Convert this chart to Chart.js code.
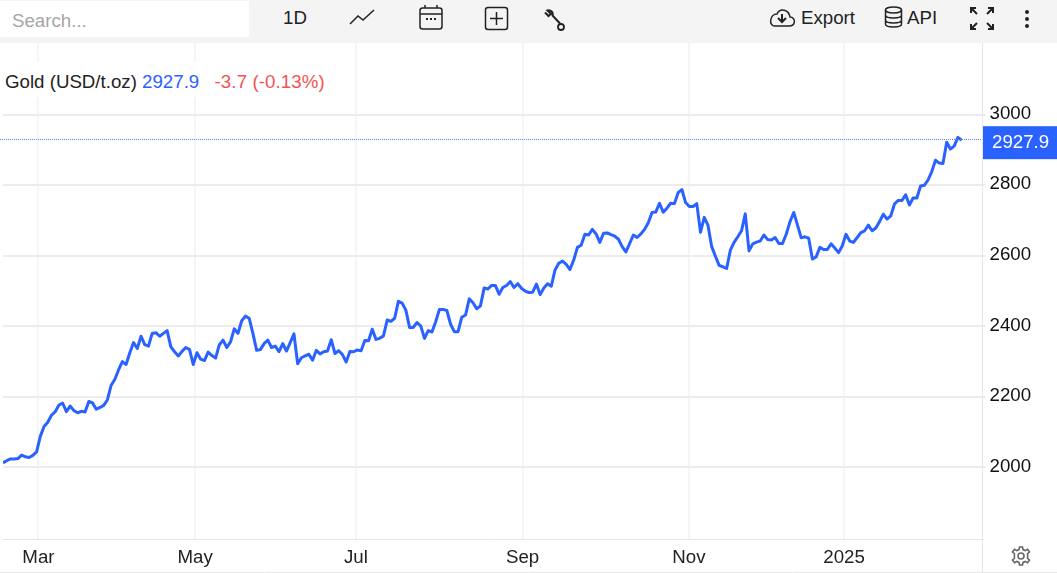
<!DOCTYPE html>
<html>
<head>
<meta charset="utf-8">
<title>Gold (USD/t.oz)</title>
<script src="https://cdn.jsdelivr.net/npm/chart.js@4/dist/chart.umd.min.js"></script>
<style>
  html, body { margin: 0; padding: 0; background: #fff; overflow: hidden; }
  body { width: 1057px; height: 573px; position: relative; font-family: "Liberation Sans", Arial, sans-serif; font-size: 18.7px; color: #222; }
  #toolbar { position: absolute; left: 0; top: 0; width: 1057px; height: 43px; background: #f4f4f4; }
  #search { position: absolute; left: 0; top: 1px; width: 249px; height: 36px; background: #fff; color: #a6a6a6; line-height: 40px; text-indent: 12px; }
  .tool { position: absolute; top: 6px; line-height: 24px; white-space: nowrap; }
  .icon { position: absolute; fill: none; stroke: #222; stroke-width: 1.5; }
  #wrap { position: absolute; left: 0; top: 43px; width: 1057px; height: 530px; }
  #label { position: absolute; left: 2px; top: 62px; width: 328px; height: 35px; line-height: 39px; background: #fff; white-space: nowrap; text-indent: 3px; }
  #label .price { color: #2962ff; }
  #label .change { color: #f55252; margin-left: 10px; letter-spacing: 0.1px; }
  #gear { position: absolute; left: 1011px; top: 546px; fill: none; stroke: #666; stroke-width: 1.6; }
</style>
</head>
<body>
<div id="toolbar">
  <div id="search">Search...</div>
  <div class="tool" style="left:283px">1D</div>
  <svg class="icon" style="left:349px;top:8px" width="26" height="18" viewBox="0 0 26 18"><path d="M1 16 L9 8 L14 12 L25 2"/></svg>
  <svg class="icon" style="left:418px;top:4px" width="26" height="27" viewBox="0 0 26 27"><rect x="2" y="4" width="22" height="21" rx="2.5"/><path d="M2 10 H24 M7 1 V4 M19 1 V4"/><path d="M8 15 h2 M12 15 h2 M16 15 h2" stroke-width="2"/></svg>
  <svg class="icon" style="left:484px;top:6px" width="25" height="25" viewBox="0 0 25 25"><rect x="1.5" y="1.5" width="22" height="22" rx="2.5"/><path d="M12.5 6 V19 M6 12.5 H19"/></svg>
  <svg class="icon" style="left:542px;top:9px" width="24" height="23" viewBox="0 0 24 23"><path d="M3 3.5 L6.5 7 L8.8 4.8 L5.5 1.5 C9 0.5 11.5 3.5 10.5 6.5 L18 14.5" stroke-width="2"/><circle cx="19" cy="18" r="3" stroke-width="1.8"/></svg>
  <svg class="icon" style="left:768px;top:7px" width="28" height="21" viewBox="0 0 28 21"><path d="M7 19 H21 C28 19 28 10 22 10 C21 3 12 0 9 7 C2 7 0 19 7 19 Z"/><path d="M14 7 V14 M10 11 L14 15 L18 11" stroke-width="2"/></svg>
  <div class="tool" style="left:801px">Export</div>
  <svg class="icon" style="left:884px;top:6px" width="19" height="22" viewBox="0 0 19 22"><ellipse cx="9.5" cy="4" rx="8" ry="3"/><path d="M1.5 4 V18 C1.5 22 17.5 22 17.5 18 V4 M1.5 9 C1.5 13 17.5 13 17.5 9 M1.5 14 C1.5 18 17.5 18 17.5 14"/></svg>
  <div class="tool" style="left:907px">API</div>
  <svg class="icon" style="left:969px;top:6px;stroke-width:2" width="26" height="25" viewBox="0 0 26 25"><path d="M2 7 V2 H7 M2 2 L8 8 M24 7 V2 H19 M24 2 L18 8 M2 18 V23 H7 M2 23 L8 17 M24 18 V23 H19 M24 23 L18 17"/></svg>
  <svg class="icon" style="left:1024px;top:9px;fill:#222;stroke:none" width="6" height="20" viewBox="0 0 6 20"><circle cx="3" cy="3" r="2"/><circle cx="3" cy="10" r="2"/><circle cx="3" cy="17" r="2"/></svg>
</div>
<div id="wrap"><canvas id="chart" width="1057" height="530"></canvas></div>
<div id="label">Gold (USD/t.oz) <span class="price">2927.9</span><span class="change"> -3.7 (-0.13%)</span></div>
<svg id="gear" width="20" height="20" viewBox="0 0 20 20"><circle cx="10" cy="10" r="3"/><path d="M8.5 1 H11.5 L12 3.6 L14.2 4.6 L16.5 3.2 L18.5 6 L16.6 7.7 V12.3 L18.5 14 L16.5 16.8 L14.2 15.4 L12 16.4 L11.5 19 H8.5 L8 16.4 L5.8 15.4 L3.5 16.8 L1.5 14 L3.4 12.3 V7.7 L1.5 6 L3.5 3.2 L5.8 4.6 L8 3.6 Z"/></svg>

<script>
// one value per trading day
const goldPrices = [
  2013,2019,2024,2024,2025,2035,2030,2028,2034,2044,2088,2116,2128,2148,2158,2177,2182,2158,2174,2161,
  2155,2159,2157,2187,2183,2165,2170,2176,2192,2233,2250,2277,2300,2292,2325,2354,2337,2372,2348,2344,
  2380,2382,2372,2380,2388,2342,2328,2316,2329,2340,2335,2292,2325,2307,2303,2327,2317,2310,2348,2361,
  2340,2356,2393,2380,2416,2429,2423,2380,2332,2334,2351,2361,2340,2344,2328,2351,2330,2354,2379,2294,
  2311,2316,2321,2304,2332,2322,2328,2330,2362,2323,2331,2320,2299,2329,2328,2333,2331,2360,2359,2392,
  2363,2366,2373,2418,2414,2423,2471,2466,2446,2397,2397,2411,2401,2366,2388,2384,2413,2448,2448,2445,
  2406,2385,2385,2426,2432,2478,2467,2450,2458,2509,2506,2516,2516,2491,2510,2516,2527,2510,2521,2508,
  2500,2496,2497,2520,2490,2509,2521,2514,2560,2579,2585,2576,2561,2588,2624,2630,2661,2659,2675,2662,
  2638,2664,2665,2660,2656,2647,2626,2611,2635,2659,2652,2662,2675,2694,2723,2724,2749,2724,2735,2749,
  2748,2779,2788,2751,2740,2740,2748,2667,2709,2687,2626,2599,2573,2569,2564,2616,2638,2654,2671,2719,
  2614,2634,2639,2642,2659,2646,2645,2652,2635,2635,2662,2697,2723,2687,2651,2654,2650,2591,2597,2624,
  2618,2618,2634,2622,2609,2628,2661,2642,2638,2652,2666,2671,2687,2671,2679,2697,2718,2704,2713,2747,
  2757,2757,2773,2744,2764,2764,2798,2800,2815,2839,2871,2863,2862,2922,2903,2911,2936,2927.9
];
const monthLabels = ['Mar', 'May', 'Jul', 'Sep', 'Nov', '2025'];
const monthIndexes = [9.5, 51.5, 94.6, 139.3, 183.9, 225.5];
const priceTicks = [2000, 2200, 2400, 2600, 2800, 3000];

const lastIndex = goldPrices.length - 1;
const lastPrice = goldPrices[lastIndex];
const blue = '#2962ff';
const fontStyle = { family: '"Liberation Sans", Arial, sans-serif', size: 18.7 };

// blue price tag and dotted last-price line, plus the axis lines that run under the plot
const priceTag = {
  id: 'priceTag',
  afterDraw(chart) {
    const { ctx, chartArea, scales } = chart;
    const y = scales.y.getPixelForValue(lastPrice);
    const lineY = Math.floor(y) - 0.5;
    ctx.save();
    ctx.strokeStyle = '#5a86ff';
    ctx.lineWidth = 1;
    ctx.setLineDash([1, 1]);
    ctx.beginPath();
    ctx.moveTo(chartArea.left - 3, lineY);
    ctx.lineTo(chartArea.right, lineY);
    ctx.stroke();
    ctx.setLineDash([]);
    ctx.fillStyle = blue;
    ctx.fillRect(chartArea.right, y - 14, 1057 - chartArea.right, 33);
    ctx.fillStyle = '#fff';
    ctx.font = '18.7px "Liberation Sans", Arial, sans-serif';
    ctx.textBaseline = 'middle';
    ctx.fillText(lastPrice.toFixed(1), chartArea.right + 9.5, y + 3);
    ctx.strokeStyle = '#e6e6e6';
    ctx.beginPath();
    ctx.moveTo(982.5, chartArea.top);
    ctx.lineTo(982.5, 530);
    ctx.moveTo(0, 529.5);
    ctx.lineTo(1057, 529.5);
    ctx.stroke();
    ctx.restore();
  }
};

new Chart(document.getElementById('chart'), {
  type: 'line',
  data: {
    datasets: [
      {
        data: goldPrices.map((v, i) => ({ x: i, y: v })),
        borderColor: blue,
        borderWidth: 3,
        pointRadius: 0,
        tension: 0,
        borderJoinStyle: 'round'
      }
    ]
  },
  options: {
    responsive: false,
    animation: false,
    layout: { padding: { left: 3 } },
    plugins: { legend: { display: false }, tooltip: { enabled: false } },
    scales: {
      x: {
        type: 'linear',
        min: 0,
        max: 262.6,
        afterBuildTicks: scale => { scale.ticks = monthIndexes.map(v => ({ value: v })); },
        afterFit: scale => { scale.height = 34; scale.paddingLeft = 0; scale.paddingRight = 0; },
        grid: { color: '#f2f5fa', lineWidth: 2, drawTicks: false },
        border: { color: '#e6e6e6' },
        ticks: {
          autoSkip: false,
          maxRotation: 0,
          padding: 8,
          color: '#222',
          font: fontStyle,
          callback: value => monthLabels[monthIndexes.indexOf(value)]
        }
      },
      y: {
        position: 'right',
        min: 1797,
        max: 3203.5,
        afterBuildTicks: scale => { scale.ticks = priceTicks.map(v => ({ value: v })); },
        afterFit: scale => { scale.width = 74.5; scale.paddingTop = 0; scale.paddingBottom = 0; },
        grid: { color: '#ececec', lineWidth: 2, tickLength: 3 },
        border: { color: '#e6e6e6' },
        ticks: {
          autoSkip: false,
          padding: 4,
          color: '#111',
          font: fontStyle,
          labelOffset: -1,
          callback: value => String(value)
        }
      }
    }
  },
  plugins: [priceTag]
});
</script>
</body>
</html>
